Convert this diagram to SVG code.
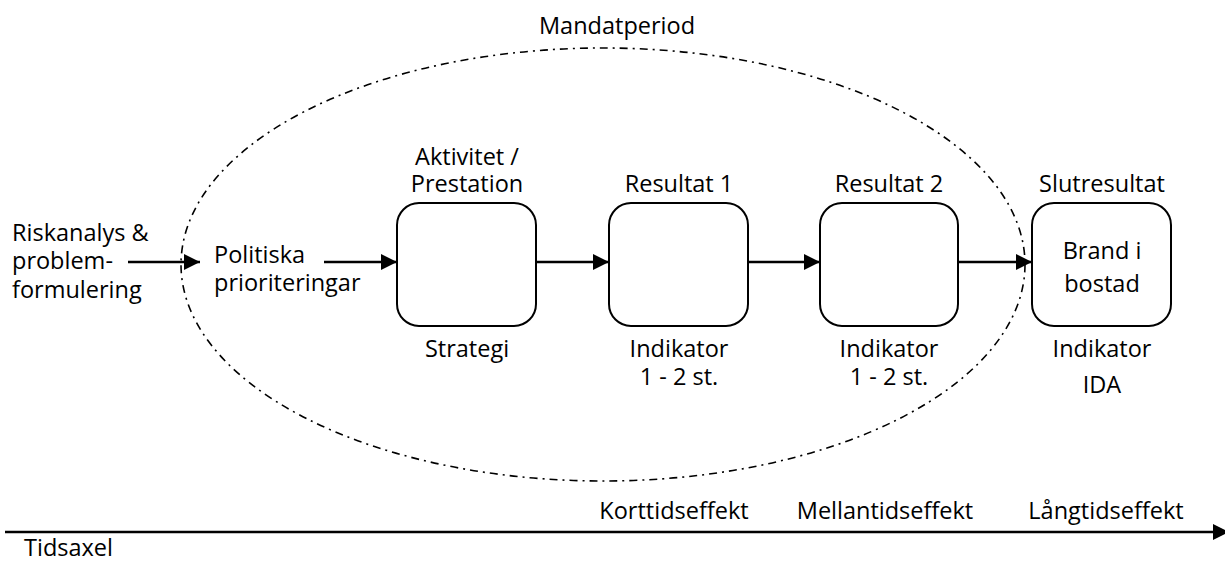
<svg xmlns="http://www.w3.org/2000/svg" width="1225" height="565" viewBox="0 0 1225 565">
  <style>
    text { font-family: "Open Sans", "DejaVu Sans", sans-serif; font-size: 23.5px; fill: #000; }
    .c { text-anchor: middle; }
    .box { fill: #fff; stroke: #000; stroke-width: 2; }
    .link { stroke: #000; stroke-width: 2.5; fill: none; marker-end: url(#head); }
  </style>
  <defs>
    <marker id="head" viewBox="0 0 10 10" refX="10" refY="5" markerUnits="userSpaceOnUse" markerWidth="16" markerHeight="16" orient="auto">
      <path d="M0,0 L10,5 L0,10 Z" fill="#000"/>
    </marker>
  </defs>

  <rect width="1225" height="565" fill="#fff"/>

  <!-- term of office -->
  <g id="mandatperiod">
    <ellipse cx="603" cy="264.5" rx="422" ry="216.5" fill="none" stroke="#000" stroke-width="1.6" stroke-dasharray="8 5 2 5"/>
    <text class="c" x="617" y="34">Mandatperiod</text>
  </g>

  <g id="riskanalys">
    <text x="12" y="241">Riskanalys &amp;</text>
    <text x="12" y="269">problem-</text>
    <text x="12" y="298">formulering</text>
  </g>

  <g id="politiska">
    <text x="214" y="263">Politiska</text>
    <text x="214" y="291">prioriteringar</text>
  </g>

  <g id="aktivitet">
    <text class="c" x="467" y="165">Aktivitet /</text>
    <text class="c" x="467" y="192">Prestation</text>
    <rect class="box" x="397" y="203" width="139" height="123" rx="22"/>
    <text class="c" x="467" y="357">Strategi</text>
  </g>

  <g id="resultat1">
    <text class="c" x="679" y="192">Resultat 1</text>
    <rect class="box" x="609" y="203" width="139" height="123" rx="22"/>
    <text class="c" x="679" y="357">Indikator</text>
    <text class="c" x="679" y="385">1 - 2 st.</text>
  </g>

  <g id="resultat2">
    <text class="c" x="889" y="192">Resultat 2</text>
    <rect class="box" x="820" y="203" width="138" height="123" rx="22"/>
    <text class="c" x="889" y="357">Indikator</text>
    <text class="c" x="889" y="385">1 - 2 st.</text>
  </g>

  <g id="slutresultat">
    <text class="c" x="1102" y="192">Slutresultat</text>
    <rect class="box" x="1032" y="203" width="139" height="123" rx="22"/>
    <text class="c" x="1102" y="259">Brand i</text>
    <text class="c" x="1102" y="292">bostad</text>
    <text class="c" x="1102" y="357">Indikator</text>
    <text class="c" x="1102" y="393">IDA</text>
  </g>

  <g id="tidsaxel">
    <text x="24" y="556">Tidsaxel</text>
    <text class="c" x="674" y="519">Korttidseffekt</text>
    <text class="c" x="885" y="519">Mellantidseffekt</text>
    <text class="c" x="1106" y="519">Långtidseffekt</text>
  </g>

  <g id="connectors">
    <line class="link" x1="128" y1="262" x2="200" y2="262"/>
    <line class="link" x1="324" y1="262" x2="397" y2="262"/>
    <line class="link" x1="536" y1="262" x2="609" y2="262"/>
    <line class="link" x1="748" y1="262" x2="820" y2="262"/>
    <line class="link" x1="958" y1="262" x2="1032" y2="262"/>
    <line class="link" x1="5" y1="532" x2="1229" y2="532" stroke-width="3"/>
  </g>
</svg>
